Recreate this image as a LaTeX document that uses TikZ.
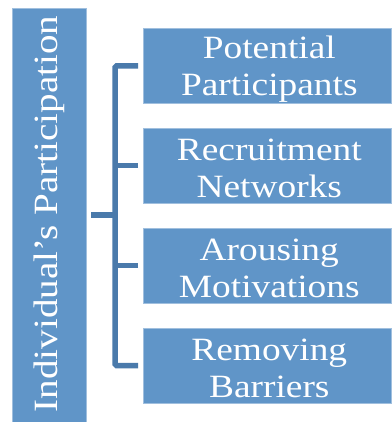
\documentclass[tikz,border=0pt]{standalone}
\usepackage{fontspec}
\setmainfont[FakeStretch=1.15]{Liberation Serif}
\definecolor{boxblue}{RGB}{96,149,200}
\definecolor{brackblue}{RGB}{74,122,171}
\begin{document}
\begin{tikzpicture}[x=1pt,y=-1pt,
  itembox/.style={draw=boxblue!60!white, line width=0.6pt, fill=boxblue, minimum width=248pt, minimum height=75pt, inner sep=0pt},
  itemtext/.style={text=white, align=center, inner sep=0pt, font=\fontsize{32.5}{37}\selectfont},
  brack/.style={draw=brackblue, line width=5.5pt, rounded corners=1.5pt}]
\useasboundingbox (0,0) rectangle (391,422);
\node[draw=boxblue!60!white, line width=0.6pt, fill=boxblue, minimum width=74pt, minimum height=414pt, inner sep=0pt] (main) at (49,215) {};
\node[rotate=90, text=white, inner sep=0pt, font=\fontsize{34}{38}\selectfont] (maintext) at (49,214) {Individual's Participation};
\node[itembox, anchor=west] (b1) at (143,66) {};
\node[itembox, anchor=west] (b2) at (143,165.5) {};
\node[itembox, anchor=west] (b3) at (143,265.5) {};
\node[itembox, anchor=west] (b4) at (143,365.5) {};
\node[itemtext] (t1) at ([xshift=2pt,yshift=-3pt]b1.center) {Potential\\Participants};
\node[itemtext] (t2) at ([xshift=2pt,yshift=-3pt]b2.center) {Recruitment\\Networks};
\node[itemtext] (t3) at ([xshift=2pt,yshift=-3pt]b3.center) {Arousing\\Motivations};
\node[itemtext] (t4) at ([xshift=2pt,yshift=-3pt]b4.center) {Removing\\Barriers};
\coordinate (sp) at (115,215);
\coordinate (st) at (91,215);
\draw[brack] (b1.west) ++(-5,0) -| (sp |- b4.west) -- ([xshift=-5pt]b4.west);
\draw[brack] (st) -- (sp);
\draw[brack] ([xshift=-5pt]b2.west) -- (sp |- b2.west);
\draw[brack] ([xshift=-5pt]b3.west) -- (sp |- b3.west);
\end{tikzpicture}
\end{document}
